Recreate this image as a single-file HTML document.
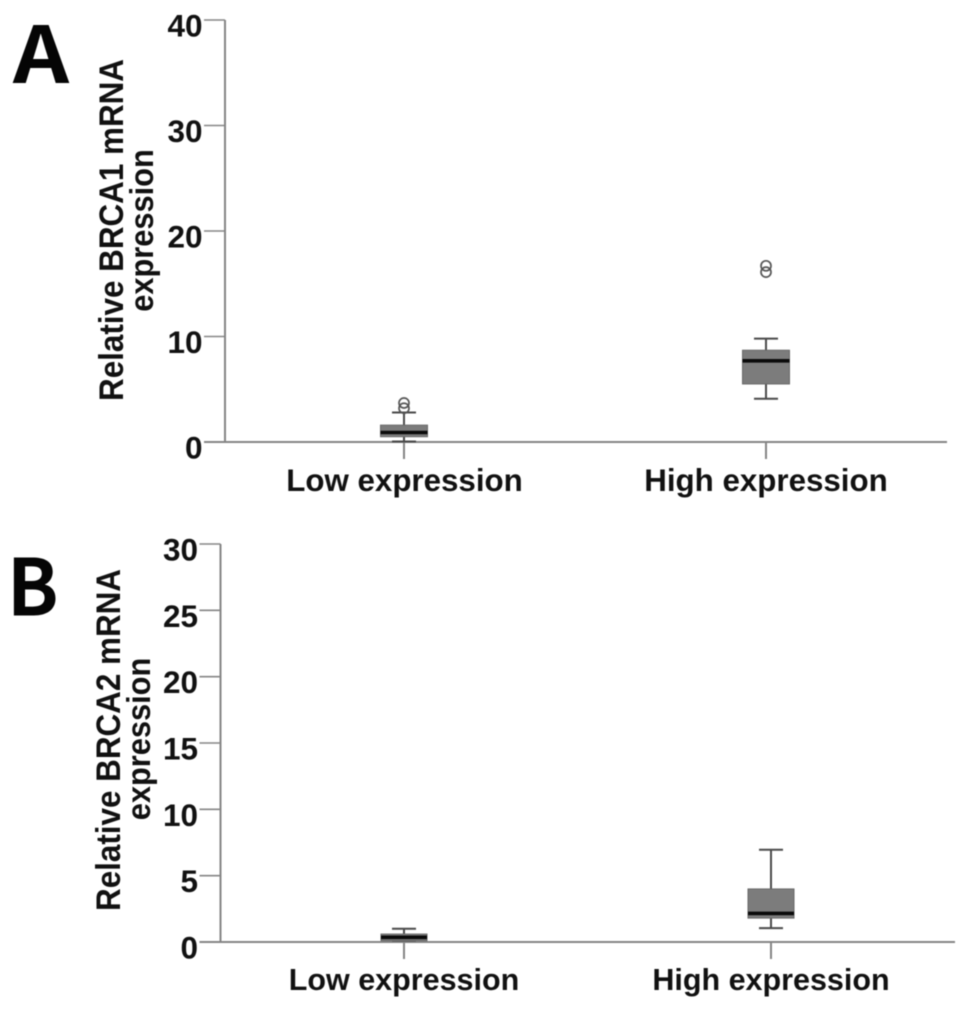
<!DOCTYPE html>
<html>
<head>
<meta charset="utf-8">
<title>BRCA1 and BRCA2 relative mRNA expression</title>
<style>
html,body{margin:0;padding:0;background:#fff;}
svg{display:block;filter:blur(0.65px);}
text{font-family:"Liberation Sans",sans-serif;font-weight:bold;fill:#111;}
.letter{font-family:"Noto Sans CJK JP","Liberation Sans",sans-serif;fill:#050505;}
</style>
</head>
<body>
<svg id="chart" width="969" height="1009" viewBox="0 0 969 1009" xmlns="http://www.w3.org/2000/svg"></svg>
<script>
const categories = ['Low expression', 'High expression'];

const ticksA = [0, 10, 20, 30, 40];
const lowA = { lo: 0.05, q1: 0.5, med: 0.9, q3: 1.6, hi: 2.8 };
const highA = { lo: 4.1, q1: 5.5, med: 7.7, q3: 8.7, hi: 9.8 };
const outliersLowA = [3.2, 3.7];
const outliersHighA = [16.1, 16.7];

const ticksB = [0, 5, 10, 15, 20, 25, 30];
const lowB = { lo: 0.1, q1: 0.1, med: 0.35, q3: 0.6, hi: 1.0 };
const highB = { lo: 1.05, q1: 1.8, med: 2.15, q3: 4.0, hi: 6.95 };
const outliersLowB = [];
const outliersHighB = [];

const svg = document.getElementById('chart');
const NS = 'http://www.w3.org/2000/svg';

function add(parent, tag, attrs, text) {
  const el = document.createElementNS(NS, tag);
  for (const k in attrs) el.setAttribute(k, attrs[k]);
  if (text !== undefined) el.textContent = text;
  parent.appendChild(el);
  return el;
}

function drawBox(g, stat, outliers, cx, boxW, y, key) {
  const mark = add(g, 'g', {});
  
  
  const stroke = '#4a4a4a';
  const cap = 24;
  const whisker = add(mark, 'line', { x1: cx, x2: cx, y1: y(stat.lo), y2: y(stat.hi), stroke: stroke, 'stroke-width': 2 });
  
  
  const capTop = add(mark, 'line', { x1: cx - cap / 2, x2: cx + cap / 2, y1: y(stat.hi), y2: y(stat.hi), stroke: stroke, 'stroke-width': 2 });
  
  
  const capBottom = add(mark, 'line', { x1: cx - cap / 2, x2: cx + cap / 2, y1: y(stat.lo), y2: y(stat.lo), stroke: stroke, 'stroke-width': 2 });
  
  
  const rect = add(mark, 'rect', { x: cx - boxW / 2, width: boxW, y: y(stat.q3), height: y(stat.q1) - y(stat.q3), fill: '#7c7c7c', stroke: '#6a6a6a', 'stroke-width': 1 });
  
  
  const median = add(mark, 'line', { x1: cx - boxW / 2, x2: cx + boxW / 2, y1: y(stat.med), y2: y(stat.med), stroke: '#0a0a0a', 'stroke-width': 3.6 });
  
  
  outliers.forEach(function (v) {
    const c = add(mark, 'circle', { cx: cx, cy: y(v), r: 5, fill: 'none', stroke: '#555', 'stroke-width': 1.7 });
    
    
  });
}

function drawPanel(p) {
  const g = add(svg, 'g', {});
  
  

  const maxTick = p.ticks[p.ticks.length - 1];
  const y = function (v) { return p.y0 + (p.yTop - p.y0) * v / maxTick; };
  const axisColor = '#858585';

  const letter = add(g, 'text', { class: 'letter', transform: 'translate(' + p.letterX + ',' + p.letterY + ') scale(' + p.letterScale + ',1)', 'font-size': p.letterSize }, p.letter);
  
  

  const yAxis = add(g, 'line', { x1: p.axisX, x2: p.axisX, y1: p.yTop, y2: p.y0, stroke: axisColor, 'stroke-width': 2 });
  
  
  const xAxis = add(g, 'line', { x1: p.axisX - 21, x2: p.xEnd, y1: p.y0, y2: p.y0, stroke: axisColor, 'stroke-width': 2 });
  
  

  p.ticks.forEach(function (t) {
    const tick = add(g, 'line', { x1: p.axisX - 21, x2: p.axisX, y1: y(t), y2: y(t), stroke: axisColor, 'stroke-width': 1.6 });
    
    
    const label = add(g, 'text', { x: p.axisX - 22.5, y: y(t) + 16.5, 'text-anchor': 'end', 'font-size': 31.5 }, String(t));
    
    
  });

  categories.forEach(function (name, i) {
    const cx = p.centers[i];
    const tick = add(g, 'line', { x1: cx, x2: cx, y1: p.y0, y2: p.y0 + 17, stroke: axisColor, 'stroke-width': 2 });
    
    
    const label = add(g, 'text', { x: p.labelX[i], y: p.labelY, 'text-anchor': 'middle', 'font-size': p.labelSize }, name);
    
    
  });

  const t1 = add(g, 'text', { transform: 'translate(' + p.title1X + ',' + p.titleY1 + ') rotate(-90) scale(1,1.08)', 'text-anchor': 'middle', 'font-size': 31.4 }, p.title);
  
  
  const t2 = add(g, 'text', { transform: 'translate(' + p.title2X + ',' + p.titleY2 + ') rotate(-90) scale(1,1.08)', 'text-anchor': 'middle', 'font-size': 30.8 }, 'expression');
  
  

  drawBox(g, p.low, p.outLow, p.centers[0], p.boxW, y, 'low-' + p.key);
  drawBox(g, p.high, p.outHigh, p.centers[1], p.boxW, y, 'high-' + p.key);
}

drawPanel({
  key: 'a', letter: 'A', letterX: 13, letterY: 83, letterSize: 78, letterScale: 1.12,
  ticks: ticksA, y0: 442, yTop: 20, axisX: 225, xEnd: 947,
  centers: [404, 766], labelX: [404.5, 766], labelY: 491, labelSize: 31.3,
  title: 'Relative BRCA1 mRNA', title1X: 123, titleY1: 230, title2X: 153, titleY2: 230.5,
  boxW: 47, low: lowA, high: highA, outLow: outliersLowA, outHigh: outliersHighA
});

drawPanel({
  key: 'b', letter: 'B', letterX: 7, letterY: 615.5, letterSize: 78, letterScale: 0.97,
  ticks: ticksB, y0: 942, yTop: 544, axisX: 220.5, xEnd: 955,
  centers: [404, 771], labelX: [404, 771], labelY: 990, labelSize: 30.5,
  title: 'Relative BRCA2 mRNA', title1X: 120, titleY1: 740, title2X: 150, titleY2: 739,
  boxW: 46, low: lowB, high: highB, outLow: outliersLowB, outHigh: outliersHighB
});
</script>
</body>
</html>
